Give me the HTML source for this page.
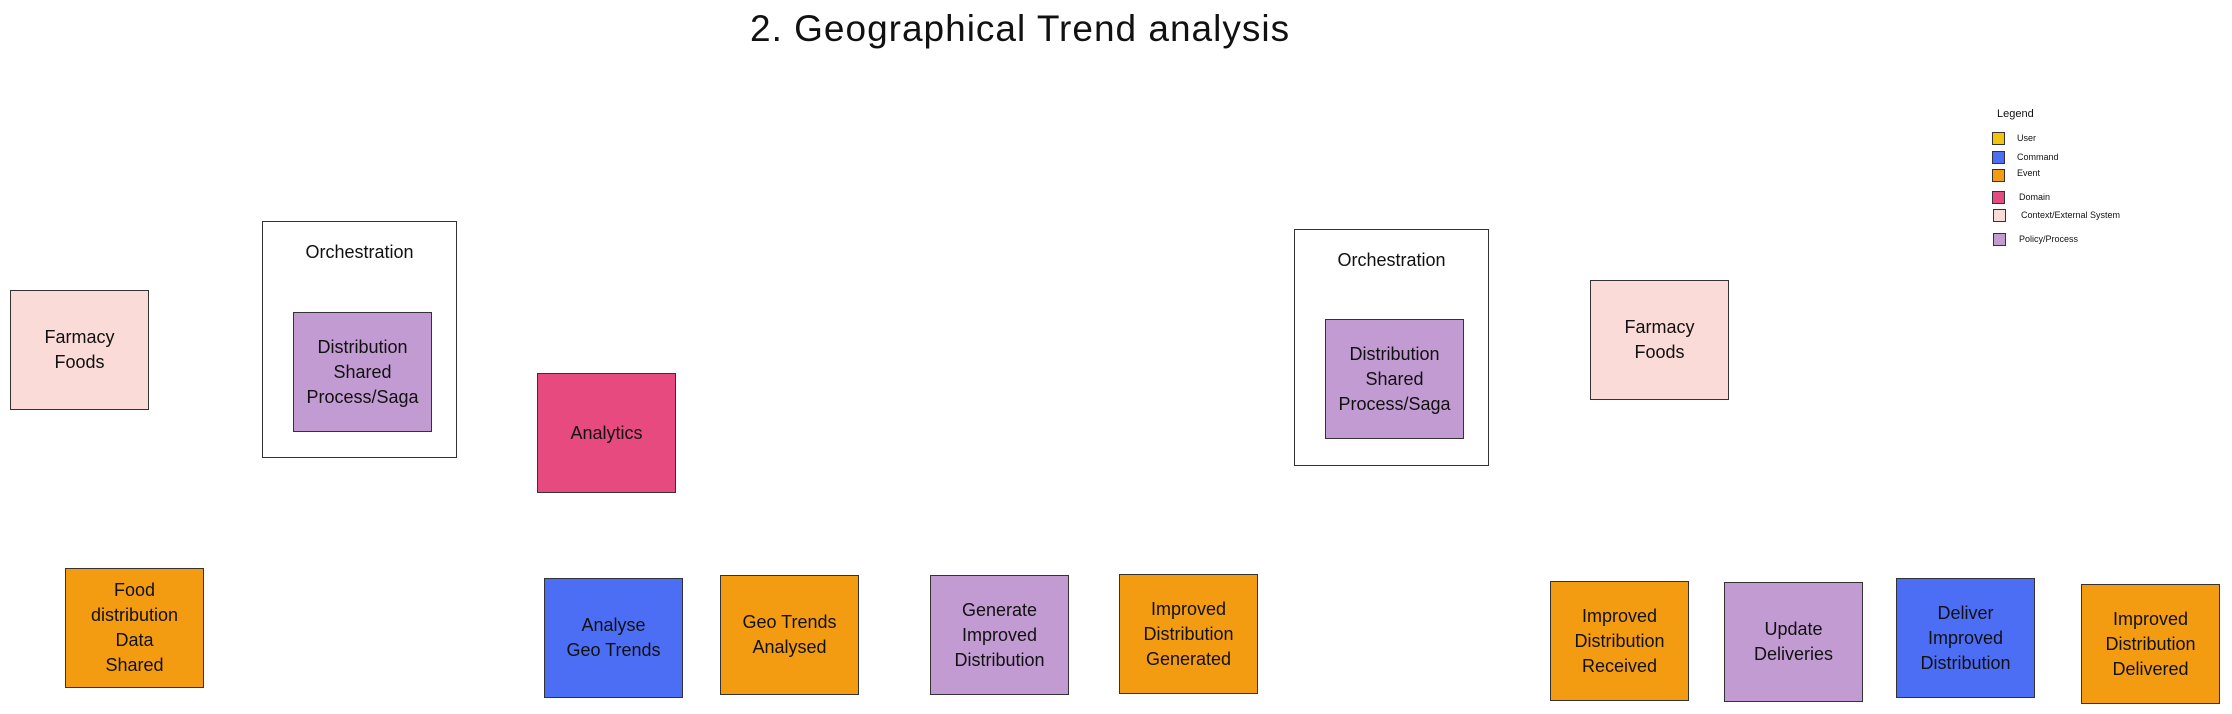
<!DOCTYPE html>
<html><head><meta charset="utf-8"><style>
body{margin:0;width:2232px;height:714px;background:#fff;position:relative;overflow:hidden;font-family:"Liberation Sans",sans-serif;color:#111}
.b{position:absolute;width:139px;height:120px;border:1.5px solid #333;box-sizing:border-box;display:flex;align-items:center;justify-content:center;text-align:center;font-size:18px;line-height:25px}
.o{position:absolute;border:1.5px solid #333;box-sizing:border-box;width:195px;height:237px}
.o span{position:absolute;top:20px;left:0;right:0;text-align:center;font-size:18px}
.pk{background:#fadbd8}.pu{background:#c39bd3}.mg{background:#e64a7e}.or{background:#f39c12}.bl{background:#4c6ef5}
.t{position:absolute;left:750px;top:8px;font-size:37px;letter-spacing:1px;white-space:nowrap}
.lg{position:absolute;font-size:9px}
.sq{position:absolute;width:13px;height:13px;border:1.5px solid #333;box-sizing:border-box}
</style></head><body>
<div class="t">2. Geographical Trend analysis</div>

<div class="b pk" style="left:10px;top:290px">Farmacy<br>Foods</div>
<div class="o" style="left:262px;top:221px"><span>Orchestration</span></div>
<div class="b pu" style="left:293px;top:312px">Distribution<br>Shared<br>Process/Saga</div>
<div class="b mg" style="left:537px;top:373px">Analytics</div>

<div class="b or" style="left:65px;top:568px">Food<br>distribution<br>Data<br>Shared</div>
<div class="b bl" style="left:544px;top:578px">Analyse<br>Geo Trends</div>
<div class="b or" style="left:720px;top:575px">Geo Trends<br>Analysed</div>
<div class="b pu" style="left:930px;top:575px">Generate<br>Improved<br>Distribution</div>
<div class="b or" style="left:1119px;top:574px">Improved<br>Distribution<br>Generated</div>

<div class="o" style="left:1294px;top:229px"><span>Orchestration</span></div>
<div class="b pu" style="left:1325px;top:319px">Distribution<br>Shared<br>Process/Saga</div>
<div class="b pk" style="left:1590px;top:280px">Farmacy<br>Foods</div>

<div class="b or" style="left:1550px;top:581px">Improved<br>Distribution<br>Received</div>
<div class="b pu" style="left:1724px;top:582px">Update<br>Deliveries</div>
<div class="b bl" style="left:1896px;top:578px">Deliver<br>Improved<br>Distribution</div>
<div class="b or" style="left:2081px;top:584px">Improved<br>Distribution<br>Delivered</div>

<div class="lg" style="left:1997px;top:108px;font-size:11px">Legend</div>
<div class="sq" style="left:1992px;top:132px;background:#f1c40f"></div><div class="lg" style="left:2017px;top:133px">User</div>
<div class="sq" style="left:1992px;top:151px;background:#4c6ef5"></div><div class="lg" style="left:2017px;top:152px">Command</div>
<div class="sq" style="left:1992px;top:169px;background:#f39c12"></div><div class="lg" style="left:2017px;top:168px">Event</div>
<div class="sq" style="left:1992px;top:191px;background:#e64a7e"></div><div class="lg" style="left:2019px;top:192px">Domain</div>
<div class="sq" style="left:1993px;top:209px;background:#fadbd8"></div><div class="lg" style="left:2021px;top:210px">Context/External System</div>
<div class="sq" style="left:1993px;top:233px;background:#c39bd3"></div><div class="lg" style="left:2019px;top:234px">Policy/Process</div>
</body></html>
